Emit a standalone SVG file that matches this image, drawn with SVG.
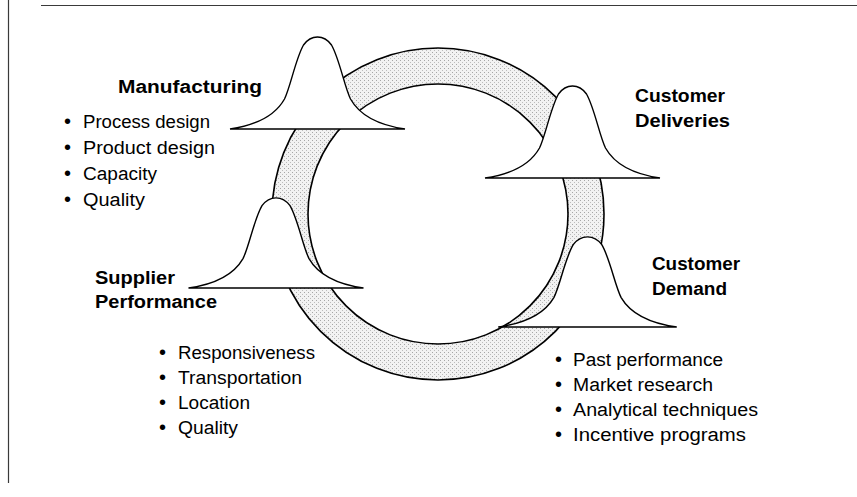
<svg xmlns="http://www.w3.org/2000/svg" xmlns:xlink="http://www.w3.org/1999/xlink" width="857" height="497" viewBox="0 0 857 497">
  <style>
    .frame { stroke: #3a3a3a; stroke-width: 1.2; fill: none; }
    .ring { fill: url(#stipple); fill-rule: evenodd; stroke: #000; stroke-width: 1.6; }
    .bell { fill: #fff; stroke: #000; stroke-width: 1.4; stroke-linejoin: miter; }
    .head { font-family: "Liberation Sans Narrow", "Liberation Sans", Arial, sans-serif; font-weight: bold; font-size: 18px; fill: #000; }
    .item { font-family: "Liberation Sans Narrow", "Liberation Sans", Arial, sans-serif; font-size: 18px; fill: #000; }
    .dot { font-size: 20px; }
  </style>
  <defs>
    <pattern id="stipple" width="4" height="4" patternUnits="userSpaceOnUse">
      <rect width="4" height="4" fill="#f2f2f2"/>
      <rect x="0" y="0" width="1" height="1" fill="#a6a6a6"/>
      <rect x="2" y="2" width="1" height="1" fill="#bcbcbc"/>
    </pattern>
    <!-- bell curve, origin at the middle of its baseline -->
    <path id="bellShape" class="bell" d="M-87.5,0 C-60,-4 -42,-14 -33,-30 C-27,-42 -22,-70 -14,-84 C-9,-91 -4,-92 0,-92 C4,-92 9,-91 14,-84 C22,-70 27,-42 33,-30 C42,-14 60,-4 87.5,0 Z"/>
  </defs>

  <rect width="857" height="497" fill="#fff"/>

  <!-- page frame -->
  <line class="frame" x1="8.5" y1="0" x2="8.5" y2="483"/>
  <line class="frame" x1="41" y1="5.5" x2="857" y2="5.5"/>

  <!-- connectors: the circular flow band -->
  <g id="connectors">
    <path class="ring" d="M272,214 a166,166 0 1,0 332,0 a166,166 0 1,0 -332,0 Z M308,214 a130,130 0 1,0 260,0 a130,130 0 1,0 -260,0 Z"/>
  </g>

  <g id="manufacturing">
    <use xlink:href="#bellShape" transform="translate(317.5,129)"/>
    <text class="head" x="118" y="93" textLength="144" lengthAdjust="spacingAndGlyphs">Manufacturing</text>
    <text class="item" y="128"><tspan class="dot" x="64">•</tspan><tspan x="83" textLength="127" lengthAdjust="spacingAndGlyphs">Process design</tspan></text>
    <text class="item" y="154"><tspan class="dot" x="64">•</tspan><tspan x="83" textLength="132" lengthAdjust="spacingAndGlyphs">Product  design</tspan></text>
    <text class="item" y="180"><tspan class="dot" x="64">•</tspan><tspan x="83" textLength="74" lengthAdjust="spacingAndGlyphs">Capacity</tspan></text>
    <text class="item" y="206"><tspan class="dot" x="64">•</tspan><tspan x="83" textLength="62" lengthAdjust="spacingAndGlyphs">Quality</tspan></text>
  </g>

  <g id="customer-deliveries">
    <use xlink:href="#bellShape" transform="translate(572.5,178)"/>
    <text class="head" x="635" y="102" textLength="90" lengthAdjust="spacingAndGlyphs">Customer</text>
    <text class="head" x="635" y="127" textLength="95" lengthAdjust="spacingAndGlyphs">Deliveries</text>
  </g>

  <g id="supplier-performance">
    <use xlink:href="#bellShape" transform="translate(276,288) scale(1,0.98)"/>
    <text class="head" x="95" y="284" textLength="80" lengthAdjust="spacingAndGlyphs">Supplier</text>
    <text class="head" x="95" y="308" textLength="122" lengthAdjust="spacingAndGlyphs">Performance</text>
    <text class="item" y="359"><tspan class="dot" x="159">•</tspan><tspan x="178" textLength="137" lengthAdjust="spacingAndGlyphs">Responsiveness</tspan></text>
    <text class="item" y="384"><tspan class="dot" x="159">•</tspan><tspan x="178" textLength="124" lengthAdjust="spacingAndGlyphs">Transportation</tspan></text>
    <text class="item" y="409"><tspan class="dot" x="159">•</tspan><tspan x="178" textLength="72" lengthAdjust="spacingAndGlyphs">Location</tspan></text>
    <text class="item" y="434"><tspan class="dot" x="159">•</tspan><tspan x="178" textLength="60" lengthAdjust="spacingAndGlyphs">Quality</tspan></text>
  </g>

  <g id="customer-demand">
    <use xlink:href="#bellShape" transform="translate(587.5,327) scale(1.02,0.98)"/>
    <text class="head" x="652" y="270" textLength="88" lengthAdjust="spacingAndGlyphs">Customer</text>
    <text class="head" x="652" y="295" textLength="75" lengthAdjust="spacingAndGlyphs">Demand</text>
    <text class="item" y="366"><tspan class="dot" x="555">•</tspan><tspan x="573" textLength="150" lengthAdjust="spacingAndGlyphs">Past performance</tspan></text>
    <text class="item" y="391"><tspan class="dot" x="555">•</tspan><tspan x="573" textLength="140" lengthAdjust="spacingAndGlyphs">Market research</tspan></text>
    <text class="item" y="416"><tspan class="dot" x="555">•</tspan><tspan x="573" textLength="185" lengthAdjust="spacingAndGlyphs">Analytical techniques</tspan></text>
    <text class="item" y="441"><tspan class="dot" x="555">•</tspan><tspan x="573" textLength="173" lengthAdjust="spacingAndGlyphs">Incentive programs</tspan></text>
  </g>
</svg>
